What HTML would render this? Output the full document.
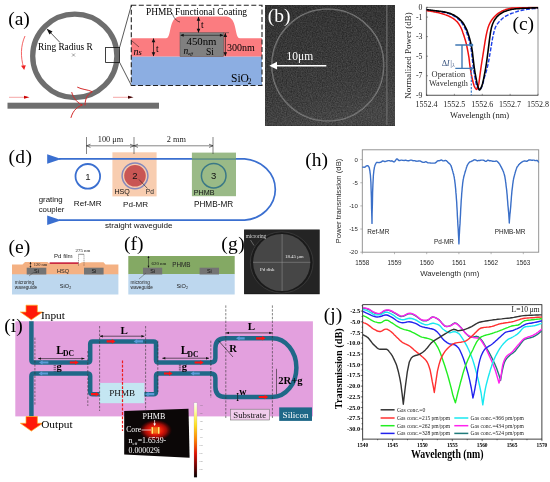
<!DOCTYPE html>
<html><head><meta charset="utf-8"><title>Figure</title>
<style>
html,body{margin:0;padding:0;background:#fff;}
svg{display:block}
.fs{font-family:"Liberation Serif", serif;}
.fn{font-family:"Liberation Sans", sans-serif;}
</style></head><body>
<svg width="550" height="482" viewBox="0 0 550 482">
<rect width="550" height="482" fill="#fff"/>
<g id="pa">
<text class="fs" x="8.2" y="25.2" font-size="19.5" fill="#000" text-anchor="start" font-weight="normal" font-style="normal" >(a)</text>
<ellipse cx="74.8" cy="55.9" rx="42.1" ry="41.7" fill="none" stroke="#6e6e6e" stroke-width="5.3"/>
<rect x="7.5" y="102.7" width="151.5" height="6" fill="#6e6e6e"/>
<rect x="105.6" y="47.4" width="14" height="15" fill="none" stroke="#111" stroke-width="0.8"/>
<path d="M119.6,47.4 L131.3,5.5 M119.6,62.4 L131.3,85.3" stroke="#111" stroke-width="0.7" fill="none"/>
<path d="M60,42.5 L48,30" stroke="#111" stroke-width="0.7" fill="none"/>
<path d="M46.5,28.5 L52.5,31.5 L49.5,34.5 Z" fill="#111"/>
<path d="M72,53.5 l3,3 m-3,0 l3,-3" stroke="#444" stroke-width="0.5"/>
<text class="fs" x="38" y="50" font-size="9.3" fill="#000" text-anchor="start" font-weight="normal" font-style="normal" >Ring Radius R</text>
<path d="M25,36 C20.5,46 20.5,57 23.6,67.5" stroke="#ee2222" stroke-width="0.7" fill="none"/>
<path d="M24.2,70 L21,65.8 L25.8,65.2 Z" fill="#ee2222"/>
<path d="M9,97.3 L27,97.3" stroke="#f08080" stroke-width="0.7"/><path d="M29.5,97.3 L24,95.8 L24,98.8 Z" fill="#c00"/>
<path d="M113,97.3 L131,97.3" stroke="#f08080" stroke-width="0.7"/><path d="M133.5,97.3 L128,95.8 L128,98.8 Z" fill="#400"/>
<path d="M77.6,87.3 C82,89.6 88,89.6 92.3,91.7 C88,94.5 85.3,97 85,105 M71.8,92.5 C73,98 78,103.5 82.4,104.9 C78,106.5 73,110 71,117.5" stroke="#d42a2a" stroke-width="1" fill="none" stroke-linecap="round"/>
<rect x="131.3" y="56.4" width="130.7" height="29" fill="#8caee2"/>
<path d="M131.3,56.5 L131.3,38.3 L166,38.3 C172,38.3 168,17 180,16.5 L226,16.5 C238,17 234,38.3 240,38.3 L262,38.3 L262,56.5 Z" fill="#fb7c80"/>
<rect x="180" y="32.7" width="43.6" height="23.8" fill="#808080" stroke="#555" stroke-width="0.5"/>
<rect x="131.3" y="5.2" width="130.7" height="80.3" fill="none" stroke="#222" stroke-width="1.1" stroke-dasharray="5,2.5"/>
<text class="fs" x="146" y="14.6" font-size="9.4" fill="#000" text-anchor="start" font-weight="normal" font-style="normal" >PHMB Functional Coating</text>
<path d="M172,13 C174,18 176,21 180,22" stroke="#111" stroke-width="0.6" fill="none"/>
<path d="M198.5,17 L198.5,32.5 M153.5,38.5 L153.5,56" stroke="#111" stroke-width="0.7"/>
<path d="M198.5,16.8 l-1.8,4 l3.6,0 Z" fill="#111"/>
<path d="M198.5,32.7 l-1.8,-4 l3.6,0 Z" fill="#111"/>
<path d="M153.5,38.2 l-1.8,4 l3.6,0 Z" fill="#111"/>
<path d="M153.5,56.3 l-1.8,-4 l3.6,0 Z" fill="#111"/>
<path d="M225.3,33 l-1.8,4 l3.6,0 Z" fill="#111"/>
<path d="M225.3,56.3 l-1.8,-4 l3.6,0 Z" fill="#111"/>
<text class="fs" x="201" y="28" font-size="9.5" fill="#000" text-anchor="start" font-weight="normal" font-style="normal" >t</text>
<text class="fs" x="156" y="52" font-size="9.5" fill="#000" text-anchor="start" font-weight="normal" font-style="normal" >t</text>
<path d="M225.3,33 L225.3,56" stroke="#111" stroke-width="0.7"/>
<path d="M223.6,32.7 L229,32.7" stroke="#333" stroke-width="0.5"/>
<path d="M181,35.3 L223,35.3" stroke="#111" stroke-width="0.6"/>
<path d="M180.2,35.3 l3.5,-1.5 l0,3 Z M223.4,35.3 l-3.5,-1.5 l0,3 Z" fill="#111"/>
<text class="fs" x="186.5" y="45" font-size="10.8" fill="#000" text-anchor="start" font-weight="normal" font-style="normal" >450nm</text>
<text class="fs" x="227" y="50.5" font-size="10" fill="#000" text-anchor="start" font-weight="normal" font-style="normal" >300nm</text>
<text class="fs" x="183.5" y="53.8" font-size="9.5" fill="#000" text-anchor="start" font-weight="normal" font-style="italic" >n</text>
<text class="fs" x="188" y="54.6" font-size="5" fill="#000" text-anchor="start" font-weight="normal" font-style="italic" >eff</text>
<text class="fs" x="206" y="54.5" font-size="9.6" fill="#000" text-anchor="start" font-weight="normal" font-style="normal" >Si</text>
<text class="fs" x="133.5" y="54.5" font-size="10" fill="#000" text-anchor="start" font-weight="normal" font-style="italic" >n</text>
<text class="fs" x="138.6" y="55.2" font-size="8.5" fill="#000" text-anchor="start" font-weight="normal" font-style="italic" >s</text>
<path d="M132,41 L139,47" stroke="#111" stroke-width="0.5"/>
<text class="fs" x="231" y="81.8" font-size="11.5" fill="#000" text-anchor="start" font-weight="normal" font-style="normal" >SiO</text>
<text class="fs" x="247.8" y="84" font-size="7.5" fill="#000" text-anchor="start" font-weight="normal" font-style="normal" >2</text>
</g>
<g id="pb">
<defs><filter id="noise" x="0" y="0" width="100%" height="100%" color-interpolation-filters="sRGB"><feTurbulence type="fractalNoise" baseFrequency="0.8" numOctaves="2" seed="3" result="n"/><feColorMatrix in="n" type="matrix" values="0.22 0 0 0 0.125  0.22 0 0 0 0.125  0.22 0 0 0 0.125  0 0 0 0 1"/></filter>
<linearGradient id="semg" x1="0" y1="0" x2="0.25" y2="1"><stop offset="0" stop-color="#000" stop-opacity="0.16"/><stop offset="0.6" stop-color="#000" stop-opacity="0.02"/><stop offset="1" stop-color="#fff" stop-opacity="0.05"/></linearGradient></defs>
<rect x="265.6" y="5" width="129.4" height="120.2" fill="#3a3a3a"/>
<rect x="265.6" y="5" width="129.4" height="120.2" fill="#3a3a3a" filter="url(#noise)"/>
<rect x="265.6" y="5" width="129.4" height="120.2" fill="url(#semg)"/>
<clipPath id="cpb"><rect x="265.6" y="5" width="129.4" height="120.2"/></clipPath>
<g clip-path="url(#cpb)">
<circle cx="327.8" cy="65" r="55.9" fill="none" stroke="#8c8c8c" stroke-width="1.3"/>
<circle cx="327.8" cy="65" r="55.9" fill="none" stroke="#353535" stroke-width="0.45"/>
<path d="M386.8,5 L386.8,125.5" stroke="#808080" stroke-width="1.2"/>
<path d="M386.8,5 L386.8,125.5" stroke="#353535" stroke-width="0.4"/>
</g>
<text class="fs" x="267.8" y="21.8" font-size="19.5" fill="#fff" text-anchor="start" font-weight="normal" font-style="normal" >(b)</text>
<text class="fs" x="286.5" y="60.4" font-size="11.5" fill="#fff" text-anchor="start" font-weight="normal" font-style="normal" >10μm</text>
<path d="M275,65.7 L326.3,65.7" stroke="#fff" stroke-width="1.6"/>
<path d="M269.3,65.7 L277,61.8 L277,69.6 Z" fill="#fff"/>
</g>
<g id="pc">
<rect x="426.5" y="7.3" width="111.5" height="88.02" fill="#fff" stroke="#777" stroke-width="0.8"/>
<path d="M426.5,7.3 L426.5,95.32 L538.0,95.32" fill="none" stroke="#7a7a7a" stroke-width="1.2"/>
<path d="M426.5,7.30 l1.5,0" stroke="#333" stroke-width="0.5"/>
<text class="fs" x="422.5" y="10.0" font-size="7.8" fill="#222" text-anchor="end" font-weight="normal" font-style="normal" >0</text>
<path d="M426.5,17.08 l1.5,0" stroke="#333" stroke-width="0.5"/>
<text class="fs" x="422.5" y="19.779999999999998" font-size="7.8" fill="#222" text-anchor="end" font-weight="normal" font-style="normal" >-1</text>
<path d="M426.5,36.64 l1.5,0" stroke="#333" stroke-width="0.5"/>
<text class="fs" x="422.5" y="39.339999999999996" font-size="7.8" fill="#222" text-anchor="end" font-weight="normal" font-style="normal" >-3</text>
<path d="M426.5,56.20 l1.5,0" stroke="#333" stroke-width="0.5"/>
<text class="fs" x="422.5" y="58.9" font-size="7.8" fill="#222" text-anchor="end" font-weight="normal" font-style="normal" >-5</text>
<path d="M426.5,75.76 l1.5,0" stroke="#333" stroke-width="0.5"/>
<text class="fs" x="422.5" y="78.46" font-size="7.8" fill="#222" text-anchor="end" font-weight="normal" font-style="normal" >-7</text>
<path d="M426.5,95.32 l1.5,0" stroke="#333" stroke-width="0.5"/>
<text class="fs" x="422.5" y="98.02" font-size="7.8" fill="#222" text-anchor="end" font-weight="normal" font-style="normal" >-9</text>
<path d="M426.50,95.32 l0,-1.5" stroke="#333" stroke-width="0.5"/>
<text class="fs" x="426.50" y="106.6" font-size="8.0" fill="#222" text-anchor="middle" font-weight="normal" font-style="normal" >1552.4</text>
<path d="M454.37,95.32 l0,-1.5" stroke="#333" stroke-width="0.5"/>
<text class="fs" x="454.37" y="106.6" font-size="8.0" fill="#222" text-anchor="middle" font-weight="normal" font-style="normal" >1552.5</text>
<path d="M482.25,95.32 l0,-1.5" stroke="#333" stroke-width="0.5"/>
<text class="fs" x="482.25" y="106.6" font-size="8.0" fill="#222" text-anchor="middle" font-weight="normal" font-style="normal" >1552.6</text>
<path d="M510.12,95.32 l0,-1.5" stroke="#333" stroke-width="0.5"/>
<text class="fs" x="510.12" y="106.6" font-size="8.0" fill="#222" text-anchor="middle" font-weight="normal" font-style="normal" >1552.7</text>
<path d="M538.00,95.32 l0,-1.5" stroke="#333" stroke-width="0.5"/>
<text class="fs" x="538.00" y="106.6" font-size="8.0" fill="#222" text-anchor="middle" font-weight="normal" font-style="normal" >1552.8</text>
<clipPath id="cpc"><rect x="426.5" y="6.5" width="111.5" height="89.2"/></clipPath><g clip-path="url(#cpc)">
<path d="M425.0,9.8 L425.9,9.9 L426.9,10.0 L427.8,10.2 L428.7,10.3 L429.6,10.4 L430.6,10.5 L431.5,10.7 L432.4,10.8 L433.3,10.9 L434.3,11.0 L435.2,11.1 L436.1,11.2 L437.0,11.3 L438.0,11.4 L438.9,11.6 L439.8,11.7 L440.7,11.8 L441.7,11.9 L442.6,12.1 L443.5,12.3 L444.4,12.4 L445.4,12.7 L446.3,12.9 L447.2,13.2 L448.1,13.4 L449.1,13.7 L450.0,14.1 L450.9,14.4 L451.8,14.9 L452.8,15.3 L453.7,15.9 L454.6,16.4 L455.5,17.0 L456.5,17.7 L457.4,18.4 L458.3,19.1 L459.2,20.0 L460.2,21.0 L461.1,22.0 L462.0,23.2 L462.9,24.6 L463.9,26.1 L464.8,27.9 L465.7,29.9 L466.6,32.4 L467.6,35.2 L468.5,38.1 L469.4,41.5 L470.3,45.4 L471.3,50.4 L472.2,58.1 L473.1,66.1 L474.0,72.3 L475.0,77.6 L475.9,82.7 L476.8,86.6 L477.7,88.3 L478.7,89.5 L479.6,90.0 L480.6,88.9 L481.6,87.2 L482.6,84.5 L483.6,80.8 L484.5,77.1 L485.5,73.9 L486.5,70.6 L487.5,66.7 L488.5,62.0 L489.5,56.4 L490.5,50.6 L491.5,44.7 L492.5,38.7 L493.5,34.0 L494.4,30.2 L495.4,27.3 L496.4,25.4 L497.4,23.8 L498.4,22.6 L499.4,21.4 L500.4,20.4 L501.4,19.4 L502.4,18.5 L503.4,17.7 L504.3,17.0 L505.3,16.4 L506.3,15.8 L507.3,15.3 L508.3,14.8 L509.3,14.3 L510.3,13.9 L511.3,13.5 L512.3,13.1 L513.3,12.8 L514.2,12.4 L515.2,12.1 L516.2,11.8 L517.2,11.5 L518.2,11.2 L519.2,10.9 L520.2,10.7 L521.2,10.5 L522.2,10.2 L523.2,10.0 L524.1,9.9 L525.1,9.7 L526.1,9.6 L527.1,9.4 L528.1,9.3 L529.1,9.1 L530.1,9.0 L531.1,8.9 L532.1,8.7 L533.1,8.6 L534.0,8.5 L535.0,8.5 L536.0,8.4 L537.0,8.3 L538.0,8.3" fill="none" stroke="#1a3ee8" stroke-width="1.4" stroke-dasharray="4,1.6"/>
<path d="M425.9,10.6 L426.8,10.7 L427.6,10.8 L428.5,10.9 L429.3,11.0 L430.2,11.1 L431.1,11.3 L431.9,11.4 L432.8,11.5 L433.6,11.7 L434.5,11.9 L435.4,12.0 L436.2,12.2 L437.1,12.4 L438.0,12.6 L438.8,12.8 L439.7,13.1 L440.5,13.3 L441.4,13.5 L442.3,13.8 L443.1,14.1 L444.0,14.3 L444.8,14.6 L445.7,14.9 L446.6,15.2 L447.4,15.5 L448.3,15.9 L449.1,16.3 L450.0,16.7 L450.9,17.1 L451.7,17.6 L452.6,18.1 L453.5,18.7 L454.3,19.3 L455.2,20.0 L456.0,20.8 L456.9,21.6 L457.8,22.6 L458.6,23.7 L459.5,25.1 L460.3,26.5 L461.2,28.2 L462.1,30.3 L462.9,32.7 L463.8,35.2 L464.6,37.9 L465.5,40.8 L466.4,44.1 L467.2,48.0 L468.1,52.6 L469.0,57.9 L469.8,65.0 L470.7,70.7 L471.5,75.5 L472.4,79.5 L473.3,83.0 L474.1,85.8 L475.0,87.6 L475.8,88.8 L476.7,89.4 L477.7,87.9 L478.8,83.9 L479.8,76.4 L480.9,68.2 L481.9,61.5 L482.9,55.3 L484.0,48.4 L485.0,41.8 L486.1,35.7 L487.1,31.1 L488.1,27.4 L489.2,24.6 L490.2,22.5 L491.2,20.8 L492.3,19.3 L493.3,17.9 L494.4,16.7 L495.4,15.7 L496.4,14.8 L497.5,13.9 L498.5,13.1 L499.6,12.5 L500.6,11.8 L501.6,11.3 L502.7,10.8 L503.7,10.3 L504.8,9.9 L505.8,9.5 L506.8,9.2 L507.9,8.9 L508.9,8.7 L509.9,8.5 L511.0,8.3 L512.0,8.1 L513.1,8.0 L514.1,7.9 L515.1,7.9 L516.2,7.9 L517.2,7.8 L518.3,7.8 L519.3,7.8 L520.3,7.8 L521.4,7.7 L522.4,7.7 L523.5,7.7 L524.5,7.7 L525.5,7.7 L526.6,7.7 L527.6,7.7 L528.6,7.6 L529.7,7.6 L530.7,7.6 L531.8,7.6 L532.8,7.6 L533.8,7.6 L534.9,7.6 L535.9,7.6 L537.0,7.6 L538.0,7.6" fill="none" stroke="#ee1111" stroke-width="1.5" stroke-linejoin="round"/>
<path d="M425.9,9.5 L426.8,9.6 L427.7,9.7 L428.6,9.9 L429.5,10.0 L430.5,10.1 L431.4,10.2 L432.3,10.3 L433.2,10.5 L434.1,10.6 L435.0,10.7 L435.9,10.8 L436.8,10.9 L437.7,11.0 L438.6,11.1 L439.6,11.2 L440.5,11.3 L441.4,11.5 L442.3,11.6 L443.2,11.7 L444.1,11.9 L445.0,12.1 L445.9,12.3 L446.8,12.5 L447.7,12.7 L448.7,13.0 L449.6,13.3 L450.5,13.6 L451.4,14.0 L452.3,14.4 L453.2,14.8 L454.1,15.3 L455.0,15.8 L455.9,16.4 L456.8,17.0 L457.8,17.7 L458.7,18.4 L459.6,19.2 L460.5,20.1 L461.4,21.1 L462.3,22.1 L463.2,23.3 L464.1,24.7 L465.0,26.3 L465.9,28.1 L466.9,30.2 L467.8,32.8 L468.7,35.5 L469.6,38.5 L470.5,41.9 L471.4,45.8 L472.3,51.1 L473.2,59.1 L474.1,66.7 L475.0,72.6 L476.0,77.8 L476.9,82.6 L477.8,86.4 L478.7,88.7 L479.6,90.0 L480.6,88.8 L481.6,86.7 L482.6,83.5 L483.6,79.1 L484.5,74.4 L485.5,69.1 L486.5,62.9 L487.5,55.5 L488.5,47.7 L489.5,39.5 L490.5,32.4 L491.5,27.4 L492.5,24.3 L493.5,22.0 L494.4,20.2 L495.4,18.7 L496.4,17.4 L497.4,16.3 L498.4,15.4 L499.4,14.5 L500.4,13.8 L501.4,13.2 L502.4,12.6 L503.4,12.0 L504.3,11.6 L505.3,11.2 L506.3,10.9 L507.3,10.6 L508.3,10.3 L509.3,10.0 L510.3,9.8 L511.3,9.5 L512.3,9.3 L513.3,9.2 L514.2,9.0 L515.2,8.9 L516.2,8.8 L517.2,8.7 L518.2,8.7 L519.2,8.6 L520.2,8.5 L521.2,8.5 L522.2,8.4 L523.2,8.3 L524.1,8.3 L525.1,8.2 L526.1,8.2 L527.1,8.2 L528.1,8.1 L529.1,8.1 L530.1,8.0 L531.1,8.0 L532.1,7.9 L533.1,7.9 L534.0,7.9 L535.0,7.9 L536.0,7.8 L537.0,7.8 L538.0,7.8" fill="none" stroke="#000" stroke-width="1.6" stroke-linejoin="round"/>
</g>
<path d="M471.3,69 L471.3,95.3" stroke="#2a6fc4" stroke-width="1.1" stroke-dasharray="2.2,1.4"/>
<path d="M455.3,45 L472,45 M455.3,68.4 L471.5,68.4 M462,45 L462,68.4" stroke="#3f78b4" stroke-width="1.4" fill="none"/>
<circle cx="471.8" cy="45" r="1.5" fill="#3f78b4"/><circle cx="471.3" cy="68.4" r="1.5" fill="#3f78b4"/>
<text class="fs" x="441.8" y="65.8" font-size="8.5" fill="#3a5580" text-anchor="start" font-weight="normal" font-style="normal" >Δ</text>
<text class="fs" x="446.8" y="65.8" font-size="8.5" fill="#3a5580" text-anchor="start" font-weight="normal" font-style="italic" >I</text>
<text class="fs" x="450.3" y="65.8" font-size="8.5" fill="#3a5580" text-anchor="start" font-weight="normal" font-style="normal" >|</text>
<text class="fs" x="452.3" y="67.3" font-size="5.5" fill="#3a5580" text-anchor="start" font-weight="normal" font-style="italic" >λ</text>
<text class="fs" x="431.6" y="77.3" font-size="8.4" fill="#333" text-anchor="start" font-weight="normal" font-style="normal" >Operation</text>
<text class="fs" x="429" y="86.4" font-size="8.2" fill="#333" text-anchor="start" font-weight="normal" font-style="normal" >Wavelength</text>
<text class="fs" x="512.4" y="30" font-size="19.5" fill="#000" text-anchor="start" font-weight="normal" font-style="normal" >(c)</text>
<text class="fs" x="479.6" y="118.3" font-size="8.5" fill="#222" text-anchor="middle" font-weight="normal" font-style="normal" >Wavelength (nm)</text>
<text class="fs" font-size="9" fill="#222" text-anchor="middle" transform="translate(411.1,55.5) rotate(-90)">Normalized Power (dB)</text>
</g>
<g id="pd">
<text class="fs" x="8.4" y="162.5" font-size="19.5" fill="#000" text-anchor="start" font-weight="normal" font-style="normal" letter-spacing="0.4">(d)</text>
<rect x="112.4" y="152.3" width="44.2" height="44.1" fill="#f8cdb0"/>
<rect x="191.9" y="152.6" width="44.1" height="43.6" fill="#9aba87"/>
<path d="M59,158.9 L244.6,158.9 A33.4,30.75 0 0 1 244.6,220.2 L59,220.2" fill="none" stroke="#3a6fd0" stroke-width="1.7"/>
<path d="M191.9,158.9 L236,158.9" stroke="#6f9c7e" stroke-width="1.7"/>
<path d="M47.2,154.2 L61.3,158.9 L47.2,163.7 Z" fill="#3a6fd0"/>
<path d="M47.2,215.5 L61.3,220.2 L47.2,224.9 Z" fill="#3a6fd0"/>
<circle cx="87.8" cy="176.3" r="12.3" fill="#fff" stroke="#3a6fd0" stroke-width="1.8"/>
<circle cx="135" cy="175.8" r="12.9" fill="none" stroke="#8588bb" stroke-width="1.5"/>
<circle cx="135" cy="175.8" r="10.8" fill="#c95654"/>
<circle cx="213.7" cy="175.7" r="12.3" fill="none" stroke="#3a7886" stroke-width="1.5"/>
<text class="fn" x="87.8" y="179.7" font-size="9.6" fill="#222" text-anchor="middle" font-weight="normal" font-style="normal" >1</text>
<text class="fn" x="135" y="179" font-size="9.5" fill="#111" text-anchor="middle" font-weight="normal" font-style="normal" >2</text>
<text class="fn" x="213.7" y="179.2" font-size="9.5" fill="#111" text-anchor="middle" font-weight="normal" font-style="normal" >3</text>
<path d="M139,179.5 L147.5,188.5" stroke="#222" stroke-width="0.6"/>
<path d="M86.5,137 L86.5,154 M134,137 L134,154 M213,137 L213,154" stroke="#333" stroke-width="0.6"/>
<path d="M86.5,145.8 L213,145.8" stroke="#333" stroke-width="0.6"/>
<path d="M86.5,145.8 l4,-1.6 M86.5,145.8 l4,1.6" stroke="#222" stroke-width="0.6" fill="none"/>
<path d="M134,145.8 l-4,-1.6 M134,145.8 l-4,1.6" stroke="#222" stroke-width="0.6" fill="none"/>
<path d="M134,145.8 l4,-1.6 M134,145.8 l4,1.6" stroke="#222" stroke-width="0.6" fill="none"/>
<path d="M213,145.8 l-4,-1.6 M213,145.8 l-4,1.6" stroke="#222" stroke-width="0.6" fill="none"/>
<text class="fs" x="110.5" y="142.3" font-size="8.3" fill="#222" text-anchor="middle" font-weight="normal" font-style="normal" >100 μm</text>
<text class="fs" x="176.4" y="141.8" font-size="8.3" fill="#222" text-anchor="middle" font-weight="normal" font-style="normal" >2 mm</text>
<text class="fn" x="38.7" y="202.2" font-size="7.85" fill="#111" text-anchor="start" font-weight="normal" font-style="normal" >grating</text>
<text class="fn" x="38.7" y="211.5" font-size="7.85" fill="#111" text-anchor="start" font-weight="normal" font-style="normal" >coupler</text>
<text class="fn" x="73.8" y="206.2" font-size="8.1" fill="#111" text-anchor="start" font-weight="normal" font-style="normal" >Ref-MR</text>
<text class="fn" x="123" y="206.6" font-size="8.1" fill="#111" text-anchor="start" font-weight="normal" font-style="normal" >Pd-MR</text>
<text class="fn" x="194" y="206.6" font-size="8.2" fill="#111" text-anchor="start" font-weight="normal" font-style="normal" >PHMB-MR</text>
<text class="fn" x="105" y="228" font-size="8.1" fill="#111" text-anchor="start" font-weight="normal" font-style="normal" >straight waveguide</text>
<text class="fn" x="114.5" y="194" font-size="7.1" fill="#111" text-anchor="start" font-weight="normal" font-style="normal" >HSQ</text>
<text class="fn" x="145.8" y="193.8" font-size="6.6" fill="#222" text-anchor="start" font-weight="normal" font-style="normal" >Pd</text>
<text class="fn" x="193.8" y="195" font-size="7.2" fill="#111" text-anchor="start" font-weight="normal" font-style="normal" >PHMB</text>
</g>
<g id="pe">
<text class="fs" x="8.6" y="252.6" font-size="19.5" fill="#000" text-anchor="start" font-weight="normal" font-style="normal" >(e)</text>
<rect x="12" y="274" width="106.4" height="20.5" fill="#bdd7ee"/>
<path d="M12,274.2 L12,264.6 L22.5,264.6 L25,262.1 L47.5,262.1 L49.5,263.6 L79.5,263.6 L82,262.2 L103.5,262.2 L105.5,264.5 L118.4,264.5 L118.4,274.2 Z" fill="#f4b183"/>
<rect x="26.7" y="267.7" width="19.6" height="6.8" fill="#747474"/>
<rect x="84" y="267.7" width="19.6" height="6.8" fill="#747474"/>
<path d="M49.6,263.1 L78.5,263.1" stroke="#c00020" stroke-width="1.4"/>
<text class="fn" x="54" y="258" font-size="6.1" fill="#222" text-anchor="start" font-weight="normal" font-style="normal" >Pd film</text>
<text class="fs" x="75.5" y="251.6" font-size="4.9" fill="#111" text-anchor="start" font-weight="normal" font-style="normal" >275 nm</text>
<text class="fs" x="33.8" y="266.2" font-size="4.4" fill="#111" text-anchor="start" font-weight="normal" font-style="normal" >120 nm</text>
<text class="fn" x="57" y="272.8" font-size="5.6" fill="#222" text-anchor="start" font-weight="normal" font-style="normal" >HSQ</text>
<text class="fn" x="36.5" y="273.3" font-size="5.4" fill="#111" text-anchor="middle" font-weight="normal" font-style="normal" >Si</text>
<text class="fn" x="93.8" y="273.3" font-size="5.4" fill="#111" text-anchor="middle" font-weight="normal" font-style="normal" >Si</text>
<text class="fn" x="59.8" y="288" font-size="5.6" fill="#222" text-anchor="start" font-weight="normal" font-style="normal" >SiO</text>
<text class="fn" x="69.2" y="289.3" font-size="3.6" fill="#222" text-anchor="start" font-weight="normal" font-style="normal" >2</text>
<text class="fn" x="14.8" y="283.5" font-size="4.7" fill="#222" text-anchor="start" font-weight="normal" font-style="normal" >microring</text>
<text class="fn" x="14.8" y="289.4" font-size="4.7" fill="#222" text-anchor="start" font-weight="normal" font-style="normal" >waveguide</text>
<path d="M29,276 L34,272" stroke="#333" stroke-width="0.4"/>
<path d="M78.5,254.5 L78.5,266 M84,254.5 L84,266" stroke="#222" stroke-width="0.4" stroke-dasharray="1.2,0.6"/>
<path d="M78.5,254.3 L84,254.3" stroke="#222" stroke-width="0.5"/>
<path d="M30.5,262.3 L30.5,267.5" stroke="#111" stroke-width="0.5"/>
<path d="M30.5,262 l-1,1.8 l2,0 Z M30.5,267.8 l-1,-1.8 l2,0 Z" fill="#111"/>
<text class="fs" x="124" y="249.9" font-size="19.5" fill="#000" text-anchor="start" font-weight="normal" font-style="normal" >(f)</text>
<rect x="128.3" y="256" width="106.4" height="18.2" fill="#84a964"/>
<rect x="128.3" y="274" width="106.4" height="20.5" fill="#bdd7ee"/>
<rect x="143" y="267.7" width="19.2" height="6.8" fill="#747474"/>
<rect x="199.6" y="267.7" width="19.4" height="6.8" fill="#747474"/>
<text class="fn" x="152.6" y="273.3" font-size="5.4" fill="#111" text-anchor="middle" font-weight="normal" font-style="normal" >Si</text>
<text class="fn" x="209.3" y="273.3" font-size="5.4" fill="#111" text-anchor="middle" font-weight="normal" font-style="normal" >Si</text>
<text class="fn" x="172.3" y="267" font-size="6.3" fill="#222" text-anchor="start" font-weight="normal" font-style="normal" >PHMB</text>
<text class="fs" x="151.5" y="265" font-size="4.9" fill="#111" text-anchor="start" font-weight="normal" font-style="normal" >620 nm</text>
<path d="M148.5,256.5 L148.5,267.3" stroke="#111" stroke-width="0.5"/>
<path d="M148.5,256.1 l-1,1.9 l2,0 Z M148.5,267.7 l-1,-1.9 l2,0 Z" fill="#111"/>
<text class="fn" x="176.5" y="287.8" font-size="5.6" fill="#222" text-anchor="start" font-weight="normal" font-style="normal" >SiO</text>
<text class="fn" x="185.9" y="289.1" font-size="3.6" fill="#222" text-anchor="start" font-weight="normal" font-style="normal" >2</text>
<text class="fn" x="130.5" y="283.5" font-size="4.7" fill="#222" text-anchor="start" font-weight="normal" font-style="normal" >microring</text>
<text class="fn" x="130.5" y="289.4" font-size="4.7" fill="#222" text-anchor="start" font-weight="normal" font-style="normal" >waveguide</text>
<path d="M139,279 L146,273" stroke="#333" stroke-width="0.4"/>
<text class="fs" x="221.3" y="249.9" font-size="19.5" fill="#000" text-anchor="start" font-weight="normal" font-style="normal" letter-spacing="0.3">(g)</text>
<rect x="244.1" y="229.5" width="75.6" height="64.7" fill="#151515"/><rect x="244.7" y="230" width="74.3" height="63.5" fill="#242424"/>
<ellipse cx="281.7" cy="262.5" rx="31.4" ry="30.6" fill="none" stroke="#3c3c3c" stroke-width="0.8"/><ellipse cx="281.7" cy="262.5" rx="30.6" ry="29.9" fill="#1a1a1a"/>
<circle cx="281.7" cy="262.5" r="28.6" fill="#464646"/>
<path d="M282.1,234 L282.1,291 M253,262.3 L310.3,262.3" stroke="#a0a0a0" stroke-width="0.45"/>
<text class="fs" x="245.7" y="237.5" font-size="5.2" fill="#ddd" text-anchor="start" font-weight="normal" font-style="normal" >microring</text>
<text class="fs" x="285" y="258.3" font-size="4.9" fill="#eee" text-anchor="start" font-weight="normal" font-style="normal" >18.45 μm</text>
<text class="fs" x="260" y="271.3" font-size="4.9" fill="#eee" text-anchor="start" font-weight="normal" font-style="normal" >Pd disk</text>
<path d="M250.5,240 L254,245.5" stroke="#ccc" stroke-width="0.4"/>
</g>
<g id="ph">
<text class="fs" x="305.3" y="166.4" font-size="19.5" fill="#000" text-anchor="start" font-weight="normal" font-style="normal" >(h)</text>
<rect x="362.3" y="149.8" width="176.40" height="102.40" fill="#fff" stroke="#8a8a8a" stroke-width="0.9"/>
<path d="M362.3,159.60 l-2,0" stroke="#8a8a8a" stroke-width="0.6"/>
<text class="fn" x="357.8" y="161.79999999999998" font-size="6" fill="#2a2a2a" text-anchor="end" font-weight="normal" font-style="normal" >0</text>
<path d="M362.3,182.75 l-2,0" stroke="#8a8a8a" stroke-width="0.6"/>
<text class="fn" x="357.8" y="184.95" font-size="6" fill="#2a2a2a" text-anchor="end" font-weight="normal" font-style="normal" >-5</text>
<path d="M362.3,205.90 l-2,0" stroke="#8a8a8a" stroke-width="0.6"/>
<text class="fn" x="357.8" y="208.09999999999997" font-size="6" fill="#2a2a2a" text-anchor="end" font-weight="normal" font-style="normal" >-10</text>
<path d="M362.3,229.05 l-2,0" stroke="#8a8a8a" stroke-width="0.6"/>
<text class="fn" x="357.8" y="231.25" font-size="6" fill="#2a2a2a" text-anchor="end" font-weight="normal" font-style="normal" >-15</text>
<path d="M362.3,252.20 l-2,0" stroke="#8a8a8a" stroke-width="0.6"/>
<text class="fn" x="357.8" y="254.39999999999998" font-size="6" fill="#2a2a2a" text-anchor="end" font-weight="normal" font-style="normal" >-20</text>
<path d="M362.30,252.20 l0,2" stroke="#8a8a8a" stroke-width="0.6"/>
<text class="fn" x="362.30" y="264.8" font-size="6.3" fill="#2a2a2a" text-anchor="middle" font-weight="normal" font-style="normal" >1558</text>
<path d="M394.50,252.20 l0,2" stroke="#8a8a8a" stroke-width="0.6"/>
<text class="fn" x="394.50" y="264.8" font-size="6.3" fill="#2a2a2a" text-anchor="middle" font-weight="normal" font-style="normal" >1559</text>
<path d="M426.70,252.20 l0,2" stroke="#8a8a8a" stroke-width="0.6"/>
<text class="fn" x="426.70" y="264.8" font-size="6.3" fill="#2a2a2a" text-anchor="middle" font-weight="normal" font-style="normal" >1560</text>
<path d="M458.90,252.20 l0,2" stroke="#8a8a8a" stroke-width="0.6"/>
<text class="fn" x="458.90" y="264.8" font-size="6.3" fill="#2a2a2a" text-anchor="middle" font-weight="normal" font-style="normal" >1561</text>
<path d="M491.10,252.20 l0,2" stroke="#8a8a8a" stroke-width="0.6"/>
<text class="fn" x="491.10" y="264.8" font-size="6.3" fill="#2a2a2a" text-anchor="middle" font-weight="normal" font-style="normal" >1562</text>
<path d="M523.30,252.20 l0,2" stroke="#8a8a8a" stroke-width="0.6"/>
<text class="fn" x="523.30" y="264.8" font-size="6.3" fill="#2a2a2a" text-anchor="middle" font-weight="normal" font-style="normal" >1563</text>
<path d="M362.3,167.3 L362.6,167.2 L362.8,167.2 L363.1,167.1 L363.3,167.1 L363.6,167.1 L363.8,167.2 L364.1,167.2 L364.3,167.2 L364.6,167.2 L364.8,167.1 L365.1,167.0 L365.3,166.8 L365.6,166.6 L365.8,166.4 L366.1,166.2 L366.3,166.0 L366.6,165.9 L366.8,165.8 L367.1,165.7 L367.3,165.7 L367.6,165.7 L367.9,165.9 L368.1,166.0 L368.4,166.2 L368.6,166.5 L368.9,166.9 L369.1,167.6 L369.4,168.4 L369.6,169.6 L369.9,171.0 L370.1,172.8 L370.4,175.0 L370.6,178.0 L370.9,182.3 L371.1,189.0 L371.4,197.7 L371.6,208.9 L371.9,219.1 L372.0,223.4 L372.1,213.9 L372.4,203.7 L372.6,192.8 L372.9,185.0 L373.2,179.0 L373.4,175.3 L373.7,172.5 L373.9,170.4 L374.2,168.8 L374.4,167.4 L374.7,166.4 L374.9,165.6 L375.2,164.8 L375.4,164.2 L375.7,163.8 L375.9,163.3 L376.2,162.9 L376.4,162.6 L376.7,162.4 L376.9,162.4 L377.2,162.4 L377.4,162.4 L377.7,162.5 L377.9,162.5 L378.2,162.5 L378.5,162.6 L378.7,162.6 L379.0,162.6 L379.2,162.6 L379.5,162.5 L379.7,162.5 L380.0,162.4 L380.2,162.3 L380.5,162.3 L380.7,162.2 L381.0,162.1 L381.2,162.0 L381.5,161.8 L381.7,161.6 L382.0,161.4 L382.2,161.2 L382.5,161.0 L382.7,160.9 L383.0,160.9 L383.2,161.0 L383.5,161.1 L383.8,161.2 L384.0,161.3 L384.3,161.4 L384.5,161.5 L384.8,161.5 L385.0,161.5 L385.3,161.5 L385.5,161.4 L385.8,161.4 L386.0,161.3 L386.3,161.2 L386.5,161.1 L386.8,161.0 L387.0,160.9 L387.3,160.9 L387.5,160.8 L387.8,160.7 L388.0,160.7 L388.3,160.6 L388.5,160.6 L388.8,160.6 L389.1,160.6 L389.3,160.6 L389.6,160.7 L389.8,160.8 L390.1,160.9 L390.3,161.0 L390.6,161.1 L390.8,161.1 L391.1,161.0 L391.3,161.0 L391.6,160.9 L391.8,160.8 L392.1,160.9 L392.3,161.0 L392.6,161.1 L392.8,161.3 L393.1,161.5 L393.3,161.7 L393.6,161.9 L393.8,161.9 L394.1,161.9 L394.3,161.8 L394.6,161.6 L394.9,161.3 L395.1,161.0 L395.4,160.6 L395.6,160.2 L395.9,159.8 L396.1,159.5 L396.4,159.2 L396.6,159.0 L396.9,159.0 L397.1,159.0 L397.4,159.1 L397.6,159.3 L397.9,159.6 L398.1,159.9 L398.4,160.1 L398.6,160.3 L398.9,160.5 L399.1,160.6 L399.4,160.6 L399.6,160.5 L399.9,160.5 L400.2,160.4 L400.4,160.3 L400.7,160.2 L400.9,160.1 L401.2,160.1 L401.4,160.1 L401.7,160.1 L401.9,160.2 L402.2,160.3 L402.4,160.3 L402.7,160.4 L402.9,160.4 L403.2,160.4 L403.4,160.4 L403.7,160.4 L403.9,160.5 L404.2,160.5 L404.4,160.4 L404.7,160.4 L404.9,160.3 L405.2,160.3 L405.5,160.3 L405.7,160.3 L406.0,160.3 L406.2,160.4 L406.5,160.4 L406.7,160.5 L407.0,160.6 L407.2,160.6 L407.5,160.7 L407.7,160.7 L408.0,160.7 L408.2,160.7 L408.5,160.8 L408.7,160.7 L409.0,160.7 L409.2,160.6 L409.5,160.6 L409.7,160.4 L410.0,160.3 L410.2,160.2 L410.5,160.1 L410.8,160.1 L411.0,160.1 L411.3,160.1 L411.5,160.1 L411.8,160.2 L412.0,160.3 L412.3,160.4 L412.5,160.5 L412.8,160.6 L413.0,160.7 L413.3,160.7 L413.5,160.7 L413.8,160.6 L414.0,160.6 L414.3,160.6 L414.5,160.6 L414.8,160.7 L415.0,160.8 L415.3,160.9 L415.5,161.0 L415.8,161.0 L416.1,161.1 L416.3,161.1 L416.6,161.2 L416.8,161.2 L417.1,161.2 L417.3,161.2 L417.6,161.1 L417.8,161.1 L418.1,161.1 L418.3,161.0 L418.6,161.0 L418.8,160.9 L419.1,160.9 L419.3,160.9 L419.6,160.9 L419.8,161.0 L420.1,161.0 L420.3,161.1 L420.6,161.2 L420.8,161.3 L421.1,161.5 L421.4,161.6 L421.6,161.8 L421.9,161.9 L422.1,162.0 L422.4,162.1 L422.6,162.2 L422.9,162.2 L423.1,162.3 L423.4,162.4 L423.6,162.4 L423.9,162.4 L424.1,162.4 L424.4,162.3 L424.6,162.2 L424.9,162.1 L425.1,161.9 L425.4,161.8 L425.6,161.8 L425.9,161.8 L426.1,161.8 L426.4,161.9 L426.7,162.1 L426.9,162.3 L427.2,162.4 L427.4,162.6 L427.7,162.7 L427.9,162.8 L428.2,162.9 L428.4,162.9 L428.7,162.9 L428.9,162.9 L429.2,162.9 L429.4,162.9 L429.7,162.9 L429.9,162.9 L430.2,163.0 L430.4,163.0 L430.7,163.1 L430.9,163.1 L431.2,163.1 L431.4,163.1 L431.7,163.1 L432.0,163.1 L432.2,163.1 L432.5,163.1 L432.7,163.1 L433.0,163.1 L433.2,163.1 L433.5,163.1 L433.7,163.1 L434.0,163.1 L434.2,163.1 L434.5,163.1 L434.7,163.1 L435.0,163.0 L435.2,162.9 L435.5,162.8 L435.7,162.6 L436.0,162.4 L436.2,162.2 L436.5,161.9 L436.7,161.7 L437.0,161.4 L437.3,161.2 L437.5,161.0 L437.8,160.8 L438.0,160.7 L438.3,160.7 L438.5,160.6 L438.8,160.7 L439.0,160.7 L439.3,160.7 L439.5,160.7 L439.8,160.6 L440.0,160.5 L440.3,160.4 L440.5,160.2 L440.8,160.1 L441.0,160.1 L441.3,160.0 L441.5,160.1 L441.8,160.2 L442.0,160.3 L442.3,160.5 L442.6,160.6 L442.8,160.8 L443.1,160.8 L443.3,160.9 L443.6,160.9 L443.8,160.9 L444.1,160.8 L444.3,160.8 L444.6,160.7 L444.8,160.6 L445.1,160.5 L445.3,160.5 L445.6,160.4 L445.8,160.5 L446.1,160.6 L446.3,160.7 L446.6,160.9 L446.8,161.1 L447.1,161.3 L447.3,161.6 L447.6,161.9 L447.9,162.2 L448.1,162.4 L448.4,162.7 L448.6,163.0 L448.9,163.2 L449.1,163.4 L449.4,163.6 L449.6,163.8 L449.9,164.0 L450.1,164.2 L450.4,164.6 L450.6,165.0 L450.9,165.5 L451.1,166.1 L451.4,166.8 L451.6,167.6 L451.9,168.4 L452.1,169.3 L452.4,170.1 L452.6,170.9 L452.9,171.8 L453.1,172.7 L453.4,173.7 L453.7,174.7 L453.9,175.9 L454.2,177.2 L454.4,178.7 L454.7,180.3 L454.9,182.1 L455.2,184.3 L455.4,186.7 L455.7,189.4 L455.9,192.4 L456.2,195.5 L456.4,198.8 L456.7,202.3 L456.9,206.6 L457.2,211.3 L457.4,216.3 L457.7,221.0 L457.9,225.2 L458.2,229.0 L458.4,233.3 L458.7,238.6 L458.9,243.9 L459.0,242.5 L459.2,236.4 L459.5,231.8 L459.7,227.8 L460.0,223.9 L460.2,219.4 L460.5,214.4 L460.7,209.4 L461.0,204.7 L461.2,200.7 L461.5,197.2 L461.7,193.8 L462.0,190.7 L462.2,187.8 L462.5,185.3 L462.7,183.1 L463.0,181.2 L463.2,179.7 L463.5,178.4 L463.7,177.1 L464.0,176.0 L464.3,175.0 L464.5,174.1 L464.8,173.2 L465.0,172.4 L465.3,171.6 L465.5,170.8 L465.8,169.9 L466.0,169.1 L466.3,168.2 L466.5,167.4 L466.8,166.7 L467.0,166.0 L467.3,165.4 L467.5,164.9 L467.8,164.4 L468.0,164.0 L468.3,163.6 L468.5,163.3 L468.8,163.0 L469.0,162.7 L469.3,162.4 L469.6,162.2 L469.8,162.0 L470.1,161.9 L470.3,161.8 L470.6,161.7 L470.8,161.6 L471.1,161.5 L471.3,161.4 L471.6,161.2 L471.8,161.1 L472.1,161.0 L472.3,160.9 L472.6,160.8 L472.8,160.7 L473.1,160.5 L473.3,160.4 L473.6,160.2 L473.8,160.1 L474.1,159.9 L474.3,159.9 L474.6,159.8 L474.9,159.8 L475.1,159.8 L475.4,159.9 L475.6,160.0 L475.9,160.1 L476.1,160.2 L476.4,160.4 L476.6,160.5 L476.9,160.6 L477.1,160.7 L477.4,160.7 L477.6,160.7 L477.9,160.7 L478.1,160.6 L478.4,160.6 L478.6,160.5 L478.9,160.5 L479.1,160.5 L479.4,160.5 L479.6,160.5 L479.9,160.5 L480.2,160.4 L480.4,160.3 L480.7,160.3 L480.9,160.2 L481.2,160.1 L481.4,160.1 L481.7,160.1 L481.9,160.1 L482.2,160.1 L482.4,160.1 L482.7,160.1 L482.9,160.1 L483.2,160.2 L483.4,160.2 L483.7,160.3 L483.9,160.4 L484.2,160.5 L484.4,160.7 L484.7,160.9 L484.9,161.1 L485.2,161.2 L485.5,161.3 L485.7,161.4 L486.0,161.4 L486.2,161.3 L486.5,161.2 L486.7,161.0 L487.0,160.7 L487.2,160.5 L487.5,160.3 L487.7,160.2 L488.0,160.2 L488.2,160.2 L488.5,160.3 L488.7,160.4 L489.0,160.5 L489.2,160.7 L489.5,160.7 L489.7,160.8 L490.0,160.8 L490.2,160.8 L490.5,160.8 L490.8,160.8 L491.0,160.8 L491.3,160.9 L491.5,160.9 L491.8,161.0 L492.0,161.1 L492.3,161.2 L492.5,161.2 L492.8,161.2 L493.0,161.3 L493.3,161.3 L493.5,161.3 L493.8,161.4 L494.0,161.4 L494.3,161.4 L494.5,161.4 L494.8,161.4 L495.0,161.3 L495.3,161.3 L495.5,161.2 L495.8,161.1 L496.1,161.1 L496.3,161.0 L496.6,161.1 L496.8,161.2 L497.1,161.3 L497.3,161.5 L497.6,161.8 L497.8,162.0 L498.1,162.3 L498.3,162.6 L498.6,162.9 L498.8,163.2 L499.1,163.4 L499.3,163.7 L499.6,164.0 L499.8,164.4 L500.1,164.9 L500.3,165.4 L500.6,165.9 L500.8,166.4 L501.1,166.9 L501.4,167.4 L501.6,167.9 L501.9,168.4 L502.1,168.9 L502.4,169.4 L502.6,169.9 L502.9,170.4 L503.1,171.0 L503.4,171.6 L503.6,172.3 L503.9,173.0 L504.1,173.9 L504.4,174.8 L504.6,175.8 L504.9,176.9 L505.1,178.3 L505.4,179.9 L505.6,181.7 L505.9,183.7 L506.1,185.8 L506.4,188.0 L506.7,190.3 L506.9,192.8 L507.2,195.6 L507.4,198.8 L507.7,202.0 L507.9,205.1 L508.2,207.9 L508.4,210.5 L508.7,213.2 L508.9,216.4 L509.2,220.6 L509.3,223.0 L509.4,220.9 L509.7,217.3 L509.9,214.5 L510.2,212.1 L510.4,209.6 L510.7,206.8 L510.9,203.6 L511.2,200.3 L511.4,197.0 L511.7,193.9 L511.9,191.3 L512.2,188.9 L512.5,186.6 L512.7,184.5 L513.0,182.6 L513.2,180.9 L513.5,179.4 L513.7,178.2 L514.0,177.1 L514.2,176.2 L514.5,175.2 L514.7,174.3 L515.0,173.4 L515.2,172.5 L515.5,171.6 L515.7,170.8 L516.0,170.0 L516.2,169.2 L516.5,168.5 L516.7,167.9 L517.0,167.3 L517.2,166.9 L517.5,166.5 L517.8,166.1 L518.0,165.8 L518.3,165.5 L518.5,165.1 L518.8,164.8 L519.0,164.5 L519.3,164.2 L519.5,163.9 L519.8,163.7 L520.0,163.5 L520.3,163.3 L520.5,163.1 L520.8,162.9 L521.0,162.7 L521.3,162.5 L521.5,162.3 L521.8,162.1 L522.0,162.0 L522.3,161.8 L522.5,161.7 L522.8,161.5 L523.1,161.4 L523.3,161.3 L523.6,161.2 L523.8,161.1 L524.1,161.0 L524.3,161.0 L524.6,161.0 L524.8,161.0 L525.1,161.0 L525.3,161.1 L525.6,161.1 L525.8,161.2 L526.1,161.3 L526.3,161.3 L526.6,161.3 L526.8,161.2 L527.1,161.2 L527.3,161.0 L527.6,160.9 L527.8,160.7 L528.1,160.5 L528.4,160.3 L528.6,160.1 L528.9,160.0 L529.1,160.0 L529.4,160.0 L529.6,160.0 L529.9,160.0 L530.1,160.0 L530.4,160.0 L530.6,160.1 L530.9,160.1 L531.1,160.1 L531.4,160.2 L531.6,160.2 L531.9,160.3 L532.1,160.3 L532.4,160.3 L532.6,160.2 L532.9,160.2 L533.1,160.1 L533.4,160.1 L533.7,160.1 L533.9,160.1 L534.2,160.2 L534.4,160.3 L534.7,160.4 L534.9,160.5 L535.2,160.6 L535.4,160.6 L535.7,160.6 L535.9,160.6 L536.2,160.5 L536.4,160.5 L536.7,160.5 L536.9,160.5 L537.2,160.5 L537.4,160.6 L537.7,160.8 L537.9,161.1 L538.2,161.5 L538.4,162.0 L538.7,162.5" fill="none" stroke="#3a6fc8" stroke-width="1.4" stroke-linejoin="round"/>
<text class="fn" x="367.3" y="233.8" font-size="6.4" fill="#1a1a1a" text-anchor="start" font-weight="normal" font-style="normal" >Ref-MR</text>
<text class="fn" x="434" y="243.9" font-size="6.4" fill="#1a1a1a" text-anchor="start" font-weight="normal" font-style="normal" >Pd-MR</text>
<text class="fn" x="494.8" y="233.8" font-size="6.4" fill="#1a1a1a" text-anchor="start" font-weight="normal" font-style="normal" >PHMB-MR</text>
<text class="fn" x="449.7" y="275.6" font-size="7.8" fill="#2a2a2a" text-anchor="middle" font-weight="normal" font-style="normal" >Wavelength (nm)</text>
<text class="fn" font-size="7.8" fill="#2a2a2a" text-anchor="middle" transform="translate(340.5,201) rotate(-90)">Power transmission (dB)</text>
</g>
<g id="pi">
<rect x="15.3" y="321.3" width="297.6" height="95.1" fill="#e3a0de"/>
<path d="M31.4,321.3 L31.4,360.0 Q31.4,362.5 33.9,362.5 L87.7,362.5 Q90.2,362.5 90.2,360.0 L90.2,343.9 Q90.2,341.4 92.7,341.4 L153.5,341.4 Q156.0,341.4 156.0,343.9 L156.0,360.0 Q156.0,362.5 158.5,362.5 L212,362.5" fill="none" stroke="#1f6888" stroke-width="4.5" stroke-linejoin="round"/>
<path d="M31.4,416.4 L31.4,376.0 Q31.4,373.5 33.9,373.5 L87.7,373.5 Q90.2,373.5 90.2,376.0 L90.2,391.7 Q90.2,394.2 92.7,394.2 L100,394.2" fill="none" stroke="#1f6888" stroke-width="4.5" stroke-linejoin="round"/>
<path d="M144,394.2 L153.5,394.2 Q156.0,394.2 156.0,391.7 L156.0,376.0 Q156.0,373.5 158.5,373.5 L212,373.5" fill="none" stroke="#1f6888" stroke-width="4.5" stroke-linejoin="round"/>
<path d="M210,362.5 L210.9,362.5 Q215.4,362.5 215.4,358.0 L215.4,348.3 Q215.4,338.3 225.4,338.3 L272.4,338.3 A24.0,29.349999999999994 0 0 1 272.4,397.0 L225.4,397.0 Q215.4,397.0 215.4,387.0 L215.4,378.0 Q215.4,373.5 210.9,373.5 L210,373.5" fill="none" stroke="#1f6888" stroke-width="4.5" stroke-linejoin="round"/>
<rect x="99.6" y="382.9" width="44.8" height="20.3" fill="#c4e6f2"/>
<text class="fs" x="122.2" y="396.3" font-size="9.1" fill="#111" text-anchor="middle" font-weight="normal" font-style="normal" >PHMB</text>
<path d="M34.9,337.6 L34.9,406" stroke="#333" stroke-width="0.6" stroke-dasharray="2.4,1.4"/>
<path d="M87.8,351 L87.8,406" stroke="#333" stroke-width="0.6" stroke-dasharray="2.4,1.4"/>
<path d="M99.6,326 L99.6,411" stroke="#333" stroke-width="0.6" stroke-dasharray="2.4,1.4"/>
<path d="M145.6,326 L145.6,410" stroke="#333" stroke-width="0.6" stroke-dasharray="2.4,1.4"/>
<path d="M157.8,340.7 L157.8,392" stroke="#333" stroke-width="0.6" stroke-dasharray="2.4,1.4"/>
<path d="M210.8,340.7 L210.8,398" stroke="#333" stroke-width="0.6" stroke-dasharray="2.4,1.4"/>
<path d="M225.8,305.4 L225.8,418.6" stroke="#333" stroke-width="0.6" stroke-dasharray="2.4,1.4"/>
<path d="M272.4,305.4 L272.4,418.6" stroke="#333" stroke-width="0.6" stroke-dasharray="2.4,1.4"/>
<path d="M122.5,360.5 L122.5,431" stroke="#ee1c1c" stroke-width="1.2" stroke-dasharray="2.8,1.5"/>
<path d="M48.4,361.4 L42.6,361.4 L42.6,360.2 L39,362.5 L42.6,364.8 L42.6,363.6 L48.4,363.6 Z" fill="#5a9ad6"/>
<path d="M69.8,361.4 L75.10000000000001,361.4 L75.10000000000001,360.2 L78.7,362.5 L75.10000000000001,364.8 L75.10000000000001,363.6 L69.8,363.6 Z" fill="#ff1212"/>
<path d="M48,372.4 L42.2,372.4 L42.2,371.2 L38.6,373.5 L42.2,375.8 L42.2,374.6 L48,374.6 Z" fill="#5a9ad6"/>
<path d="M91,393.09999999999997 L95.80000000000001,393.09999999999997 L95.80000000000001,391.9 L99.4,394.2 L95.80000000000001,396.5 L95.80000000000001,395.3 L91,395.3 Z" fill="#ff1212"/>
<path d="M106.6,340.29999999999995 L111.9,340.29999999999995 L111.9,339.09999999999997 L115.5,341.4 L111.9,343.7 L111.9,342.5 L106.6,342.5 Z" fill="#ff1212"/>
<path d="M143,340.29999999999995 L137.2,340.29999999999995 L137.2,339.09999999999997 L133.6,341.4 L137.2,343.7 L137.2,342.5 L143,342.5 Z" fill="#5a9ad6"/>
<path d="M154.3,393.09999999999997 L148.6,393.09999999999997 L148.6,391.9 L145,394.2 L148.6,396.5 L148.6,395.3 L154.3,395.3 Z" fill="#5a9ad6"/>
<path d="M194.6,361.4 L200.1,361.4 L200.1,360.2 L203.7,362.5 L200.1,364.8 L200.1,363.6 L194.6,363.6 Z" fill="#ff1212"/>
<path d="M164,372.4 L169.0,372.4 L169.0,371.2 L172.6,373.5 L169.0,375.8 L169.0,374.6 L164,374.6 Z" fill="#ff1212"/>
<path d="M199.8,372.4 L194.1,372.4 L194.1,371.2 L190.5,373.5 L194.1,375.8 L194.1,374.6 L199.8,374.6 Z" fill="#5a9ad6"/>
<path d="M244.7,337.2 L239.6,337.2 L239.6,336.0 L236,338.3 L239.6,340.6 L239.6,339.40000000000003 L244.7,339.40000000000003 Z" fill="#5a9ad6"/>
<path d="M256,337.2 L262.0,337.2 L262.0,336.0 L265.6,338.3 L262.0,340.6 L262.0,339.40000000000003 L256,339.40000000000003 Z" fill="#ff1212"/>
<path d="M258.7,395.9 L264.59999999999997,395.9 L264.59999999999997,394.7 L268.2,397.0 L264.59999999999997,399.3 L264.59999999999997,398.1 L258.7,398.1 Z" fill="#ff1212"/>
<path d="M38,358.6 L84.5,358.6" stroke="#111" stroke-width="0.6"/>
<path d="M38,358.6 l3,-1.2 l0,2.4 Z M84.5,358.6 l-3,-1.2 l0,2.4 Z" fill="#111"/>
<path d="M162.3,358.2 L209,358.2" stroke="#111" stroke-width="0.6"/>
<path d="M162.3,358.2 l3,-1.2 l0,2.4 Z M209,358.2 l-3,-1.2 l0,2.4 Z" fill="#111"/>
<path d="M99.8,336.2 L144.4,336.2" stroke="#111" stroke-width="0.6"/>
<path d="M99.8,336.2 l3,-1.2 l0,2.4 Z M144.4,336.2 l-3,-1.2 l0,2.4 Z" fill="#111"/>
<path d="M226,332.9 L272.2,332.9" stroke="#111" stroke-width="0.6"/>
<path d="M226,332.9 l3,-1.2 l0,2.4 Z M272.2,332.9 l-3,-1.2 l0,2.4 Z" fill="#111"/>
<text class="fs" x="56.3" y="353.8" font-size="11.5" fill="#000" text-anchor="start" font-weight="bold" font-style="normal" >L</text>
<text class="fs" x="63.0" y="356.2" font-size="7.6" fill="#000" text-anchor="start" font-weight="bold" font-style="normal" >DC</text>
<text class="fs" x="180.8" y="354.2" font-size="11.5" fill="#000" text-anchor="start" font-weight="bold" font-style="normal" >L</text>
<text class="fs" x="187.5" y="356.59999999999997" font-size="7.6" fill="#000" text-anchor="start" font-weight="bold" font-style="normal" >DC</text>
<text class="fs" x="120.6" y="333.6" font-size="11" fill="#000" text-anchor="start" font-weight="bold" font-style="normal" >L</text>
<text class="fs" x="247.8" y="329.8" font-size="11" fill="#000" text-anchor="start" font-weight="bold" font-style="normal" >L</text>
<text class="fs" x="56.6" y="370.2" font-size="10.5" fill="#000" text-anchor="start" font-weight="bold" font-style="normal" >g</text>
<path d="M54.2,365.0 L54.2,371.5" stroke="#111" stroke-width="0.6" stroke-dasharray="1.2,0.8"/>
<path d="M55.400000000000006,365.0 L55.400000000000006,371.5" stroke="#111" stroke-width="0.5" stroke-dasharray="1.2,0.8"/>
<text class="fs" x="181.8" y="369.8" font-size="10.5" fill="#000" text-anchor="start" font-weight="bold" font-style="normal" >g</text>
<path d="M179.4,364.6 L179.4,371.1" stroke="#111" stroke-width="0.6" stroke-dasharray="1.2,0.8"/>
<path d="M180.6,364.6 L180.6,371.1" stroke="#111" stroke-width="0.5" stroke-dasharray="1.2,0.8"/>
<path d="M218.5,340.7 L233,357" stroke="#111" stroke-width="0.6"/>
<text class="fs" x="229.3" y="352" font-size="10.5" fill="#000" text-anchor="start" font-weight="bold" font-style="normal" >R</text>
<text class="fs" x="239.2" y="394.7" font-size="10" fill="#000" text-anchor="start" font-weight="bold" font-style="normal" >w</text>
<path d="M237.6,393.5 L237.6,400.2" stroke="#111" stroke-width="0.6"/>
<path d="M237.6,395 l-1.1,-2 l2.2,0 Z M237.6,399 l-1.1,2 l2.2,0 Z" fill="#111"/>
<text class="fs" x="278.2" y="383.6" font-size="10.6" fill="#000" text-anchor="start" font-weight="bold" font-style="normal" >2R+g</text>
<path d="M276.5,368.8 L276.5,394.4" stroke="#222" stroke-width="0.6"/>
<rect x="230.4" y="409.2" width="39.3" height="10.8" fill="#f1cdec" stroke="#777" stroke-width="0.6"/>
<text class="fs" x="233.3" y="417.7" font-size="8.8" fill="#111" text-anchor="start" font-weight="normal" font-style="normal" >Substrate</text>
<rect x="279.2" y="407.4" width="32.8" height="13.5" fill="#1f6888"/>
<text class="fs" x="282.6" y="417.5" font-size="9.2" fill="#fff" text-anchor="start" font-weight="normal" font-style="normal" >Silicon</text>
<path d="M26,305.2 L37.4,305.2 L37.4,312.0 L42.6,312.0 L31.3,319.8 L20.4,312.0 L26,312.0 Z" fill="#ff1a08" stroke="#ffb020" stroke-width="0.7" stroke-linejoin="round"/>
<path d="M26,416.5 L37.4,416.5 L37.4,423.3 L42.6,423.3 L31.3,431.1 L20.4,423.3 L26,423.3 Z" fill="#ff1a08" stroke="#ffb020" stroke-width="0.7" stroke-linejoin="round"/>
<text class="fs" x="41" y="318.8" font-size="11.3" fill="#000" text-anchor="start" font-weight="normal" font-style="normal" >Input</text>
<text class="fs" x="41.2" y="428" font-size="11.3" fill="#000" text-anchor="start" font-weight="normal" font-style="normal" >Output</text>
<text class="fs" x="4.3" y="331.8" font-size="19.5" fill="#000" text-anchor="start" font-weight="normal" font-style="normal" >(i)</text>
<defs><radialGradient id="glow"><stop offset="0" stop-color="#ff9020"/><stop offset="0.22" stop-color="#f83810"/><stop offset="0.45" stop-color="#d81408"/><stop offset="0.65" stop-color="#a00c06" stop-opacity="0.95"/><stop offset="0.85" stop-color="#500404" stop-opacity="0.6"/><stop offset="1" stop-color="#0a0202" stop-opacity="0"/></radialGradient>
<linearGradient id="cbar" x1="0" y1="0" x2="0" y2="1"><stop offset="0" stop-color="#ffffff"/><stop offset="0.12" stop-color="#ffffa0"/><stop offset="0.3" stop-color="#ffe020"/><stop offset="0.5" stop-color="#ff8000"/><stop offset="0.68" stop-color="#e01000"/><stop offset="0.85" stop-color="#700000"/><stop offset="1" stop-color="#000000"/></linearGradient></defs>
<path d="M124.2,411 L188.5,408.7 L189.6,457.8 L124.2,454.5 Z" fill="#0b0707"/>
<ellipse cx="155.6" cy="430.3" rx="17" ry="11" fill="url(#glow)"/><rect x="152" y="427.3" width="7" height="6.2" fill="#f07818" opacity="0.85"/>
<rect x="151.5" y="427" width="1.5" height="6.8" rx="0.6" fill="#ffe870"/><rect x="158" y="427" width="1.5" height="6.8" rx="0.6" fill="#ffe870"/>
<text class="fs" x="142.6" y="418.6" font-size="8" fill="#fff" text-anchor="start" font-weight="normal" font-style="normal" >PHMB</text>
<text class="fs" x="126.2" y="432.3" font-size="7.7" fill="#fff" text-anchor="start" font-weight="normal" font-style="normal" >Core</text>
<path d="M141.5,430 L151,430" stroke="#fff" stroke-width="0.7"/>
<path d="M154.6,420 L154.6,424" stroke="#fff" stroke-width="0.7"/><path d="M154.6,426 l-1.4,-2.4 l2.8,0 Z" fill="#fff"/>
<text class="fs" x="128.6" y="443.4" font-size="7.8" fill="#fff" text-anchor="start" font-weight="normal" font-style="normal" >n</text>
<text class="fs" x="132.5" y="444.8" font-size="4.4" fill="#fff" text-anchor="start" font-weight="normal" font-style="normal" >eff</text>
<text class="fs" x="137.7" y="443.4" font-size="7.8" fill="#fff" text-anchor="start" font-weight="normal" font-style="normal" >=1.6539-</text>
<text class="fs" x="128.6" y="452.7" font-size="7.8" fill="#fff" text-anchor="start" font-weight="normal" font-style="normal" >0.000029i</text>
<rect x="194" y="402.8" width="3" height="74.5" fill="url(#cbar)" stroke="#999" stroke-width="0.2"/>
<text class="fs" x="199.5" y="405.5" font-size="2.4" fill="#666" text-anchor="start" font-weight="normal" font-style="normal" >1.8</text>
<text class="fs" x="199.5" y="413.6" font-size="2.4" fill="#666" text-anchor="start" font-weight="normal" font-style="normal" >1.6</text>
<text class="fs" x="199.5" y="421.7" font-size="2.4" fill="#666" text-anchor="start" font-weight="normal" font-style="normal" >1.4</text>
<text class="fs" x="199.5" y="429.8" font-size="2.4" fill="#666" text-anchor="start" font-weight="normal" font-style="normal" >1.2</text>
<text class="fs" x="199.5" y="437.9" font-size="2.4" fill="#666" text-anchor="start" font-weight="normal" font-style="normal" >1.0</text>
<text class="fs" x="199.5" y="446.0" font-size="2.4" fill="#666" text-anchor="start" font-weight="normal" font-style="normal" >0.8</text>
<text class="fs" x="199.5" y="454.1" font-size="2.4" fill="#666" text-anchor="start" font-weight="normal" font-style="normal" >0.6</text>
<text class="fs" x="199.5" y="462.2" font-size="2.4" fill="#666" text-anchor="start" font-weight="normal" font-style="normal" >0.4</text>
<text class="fs" x="199.5" y="470.3" font-size="2.4" fill="#666" text-anchor="start" font-weight="normal" font-style="normal" >0.2</text>
</g>
<g id="pj">
<text class="fs" x="323.8" y="321" font-size="19.5" fill="#000" text-anchor="start" font-weight="normal" font-style="normal" >(j)</text>
<rect x="362.7" y="304.7" width="179.20" height="134.40" fill="#fff" stroke="#111" stroke-width="0.8"/>
<path d="M362.7,311.10 l-2,0" stroke="#111" stroke-width="0.6"/>
<path d="M362.7,305.74 l-1.2,0" stroke="#111" stroke-width="0.5"/>
<text class="fs" x="360.09999999999997" y="313.10" font-size="6.3" font-weight="bold" text-anchor="end">-2.5</text>
<path d="M362.7,321.82 l-2,0" stroke="#111" stroke-width="0.6"/>
<path d="M362.7,316.46 l-1.2,0" stroke="#111" stroke-width="0.5"/>
<text class="fs" x="360.09999999999997" y="323.82" font-size="6.3" font-weight="bold" text-anchor="end">-5.0</text>
<path d="M362.7,332.54 l-2,0" stroke="#111" stroke-width="0.6"/>
<path d="M362.7,327.18 l-1.2,0" stroke="#111" stroke-width="0.5"/>
<text class="fs" x="360.09999999999997" y="334.54" font-size="6.3" font-weight="bold" text-anchor="end">-7.5</text>
<path d="M362.7,343.26 l-2,0" stroke="#111" stroke-width="0.6"/>
<path d="M362.7,337.90 l-1.2,0" stroke="#111" stroke-width="0.5"/>
<text class="fs" x="360.09999999999997" y="345.26" font-size="6.3" font-weight="bold" text-anchor="end">-10.0</text>
<path d="M362.7,353.98 l-2,0" stroke="#111" stroke-width="0.6"/>
<path d="M362.7,348.62 l-1.2,0" stroke="#111" stroke-width="0.5"/>
<text class="fs" x="360.09999999999997" y="355.98" font-size="6.3" font-weight="bold" text-anchor="end">-12.5</text>
<path d="M362.7,364.70 l-2,0" stroke="#111" stroke-width="0.6"/>
<path d="M362.7,359.34 l-1.2,0" stroke="#111" stroke-width="0.5"/>
<text class="fs" x="360.09999999999997" y="366.70" font-size="6.3" font-weight="bold" text-anchor="end">-15.0</text>
<path d="M362.7,375.42 l-2,0" stroke="#111" stroke-width="0.6"/>
<path d="M362.7,370.06 l-1.2,0" stroke="#111" stroke-width="0.5"/>
<text class="fs" x="360.09999999999997" y="377.42" font-size="6.3" font-weight="bold" text-anchor="end">-17.5</text>
<path d="M362.7,386.14 l-2,0" stroke="#111" stroke-width="0.6"/>
<path d="M362.7,380.78 l-1.2,0" stroke="#111" stroke-width="0.5"/>
<text class="fs" x="360.09999999999997" y="388.14" font-size="6.3" font-weight="bold" text-anchor="end">-20.0</text>
<path d="M362.7,396.86 l-2,0" stroke="#111" stroke-width="0.6"/>
<path d="M362.7,391.50 l-1.2,0" stroke="#111" stroke-width="0.5"/>
<text class="fs" x="360.09999999999997" y="398.86" font-size="6.3" font-weight="bold" text-anchor="end">-22.5</text>
<path d="M362.7,407.58 l-2,0" stroke="#111" stroke-width="0.6"/>
<path d="M362.7,402.22 l-1.2,0" stroke="#111" stroke-width="0.5"/>
<text class="fs" x="360.09999999999997" y="409.58" font-size="6.3" font-weight="bold" text-anchor="end">-25.0</text>
<path d="M362.7,418.30 l-2,0" stroke="#111" stroke-width="0.6"/>
<path d="M362.7,412.94 l-1.2,0" stroke="#111" stroke-width="0.5"/>
<text class="fs" x="360.09999999999997" y="420.30" font-size="6.3" font-weight="bold" text-anchor="end">-27.5</text>
<path d="M362.7,429.02 l-2,0" stroke="#111" stroke-width="0.6"/>
<path d="M362.7,423.66 l-1.2,0" stroke="#111" stroke-width="0.5"/>
<text class="fs" x="360.09999999999997" y="431.02" font-size="6.3" font-weight="bold" text-anchor="end">-30.0</text>
<path d="M362.70,439.1 l0,2" stroke="#111" stroke-width="0.6"/>
<path d="M377.63,439.1 l0,1.2" stroke="#111" stroke-width="0.5"/>
<text class="fs" x="362.70" y="446.9" font-size="5.4" fill="#000" text-anchor="middle" font-weight="bold" font-style="normal" >1540</text>
<path d="M392.57,439.1 l0,2" stroke="#111" stroke-width="0.6"/>
<path d="M407.50,439.1 l0,1.2" stroke="#111" stroke-width="0.5"/>
<text class="fs" x="392.57" y="446.9" font-size="5.4" fill="#000" text-anchor="middle" font-weight="bold" font-style="normal" >1545</text>
<path d="M422.43,439.1 l0,2" stroke="#111" stroke-width="0.6"/>
<path d="M437.37,439.1 l0,1.2" stroke="#111" stroke-width="0.5"/>
<text class="fs" x="422.43" y="446.9" font-size="5.4" fill="#000" text-anchor="middle" font-weight="bold" font-style="normal" >1550</text>
<path d="M452.30,439.1 l0,2" stroke="#111" stroke-width="0.6"/>
<path d="M467.23,439.1 l0,1.2" stroke="#111" stroke-width="0.5"/>
<text class="fs" x="452.30" y="446.9" font-size="5.4" fill="#000" text-anchor="middle" font-weight="bold" font-style="normal" >1555</text>
<path d="M482.17,439.1 l0,2" stroke="#111" stroke-width="0.6"/>
<path d="M497.10,439.1 l0,1.2" stroke="#111" stroke-width="0.5"/>
<text class="fs" x="482.17" y="446.9" font-size="5.4" fill="#000" text-anchor="middle" font-weight="bold" font-style="normal" >1560</text>
<path d="M512.03,439.1 l0,2" stroke="#111" stroke-width="0.6"/>
<path d="M526.97,439.1 l0,1.2" stroke="#111" stroke-width="0.5"/>
<text class="fs" x="512.03" y="446.9" font-size="5.4" fill="#000" text-anchor="middle" font-weight="bold" font-style="normal" >1565</text>
<path d="M541.90,439.1 l0,2" stroke="#111" stroke-width="0.6"/>
<text class="fs" x="541.90" y="446.9" font-size="5.4" fill="#000" text-anchor="middle" font-weight="bold" font-style="normal" >1570</text>
<clipPath id="cpj"><rect x="362.7" y="304.7" width="179.20" height="134.40"/></clipPath><g clip-path="url(#cpj)">
<path d="M362.9,308.3 L364.9,308.4 L366.9,308.8 L368.9,309.5 L370.9,310.7 L372.9,312.1 L374.9,313.0 L376.9,313.7 L378.9,314.1 L380.8,313.4 L382.8,312.0 L384.8,310.7 L386.8,310.4 L388.8,310.4 L390.8,311.0 L392.8,312.1 L394.8,313.1 L396.8,314.3 L398.8,315.6 L400.8,316.5 L402.8,316.4 L404.8,315.6 L406.8,314.5 L408.8,313.7 L410.8,313.6 L412.8,314.3 L414.8,315.4 L416.8,316.6 L418.8,318.2 L420.8,319.7 L422.8,320.7 L424.8,320.7 L426.8,320.7 L428.7,319.7 L430.7,318.0 L432.7,317.0 L434.7,317.4 L436.7,318.4 L438.7,319.6 L440.7,321.6 L442.7,324.1 L444.7,326.0 L446.7,326.5 L448.7,326.2 L450.7,325.6 L452.7,324.1 L454.7,322.9 L456.7,323.4 L458.7,325.2 L460.7,327.3 L462.7,329.6 L464.7,332.1 L466.7,334.3 L468.7,336.2 L470.7,337.3 L472.7,337.1 L474.7,336.6 L476.6,336.3 L478.6,337.0 L480.6,338.9 L482.6,341.4 L484.6,344.8 L486.6,348.3 L488.6,351.7 L490.6,355.4 L492.6,359.3 L494.6,363.5 L496.6,368.3 L498.6,373.9 L500.6,380.3 L501.2,376.4 L501.8,372.9 L502.4,370.0 L503.0,367.5 L503.6,365.1 L504.2,363.1 L504.8,361.6 L505.4,360.5 L506.0,359.5 L506.6,358.7 L507.2,357.9 L507.8,357.2 L508.4,356.6 L509.0,356.1 L509.6,355.5 L510.2,355.0 L510.8,354.5 L511.4,354.0 L512.0,353.6 L512.6,353.2 L513.2,352.8 L513.8,352.3 L514.4,351.8 L515.0,351.2 L515.6,350.5 L516.2,349.7 L516.8,348.9 L517.4,348.1 L518.0,347.3 L518.6,346.6 L519.2,345.8 L519.8,345.0 L520.4,344.2 L521.0,343.3 L521.6,342.5 L522.2,341.8 L522.8,341.0 L523.3,340.4 L523.9,339.9 L524.5,339.5 L525.1,339.2 L525.7,339.0 L526.3,338.8 L526.9,338.6 L527.5,338.4 L528.1,338.3 L528.7,338.1 L529.3,338.0 L529.9,337.9 L530.5,337.7 L531.1,337.6 L531.7,337.4 L532.3,337.2 L532.9,337.0 L533.5,336.7 L534.1,336.4 L534.7,336.1 L535.3,335.7 L535.9,335.4 L536.5,335.0 L537.1,334.6 L537.7,334.2 L538.3,333.7 L538.9,333.3 L539.5,332.8 L540.1,332.3 L540.7,331.8 L541.3,331.2 L541.9,330.7" fill="none" stroke="#1f7a7a" stroke-width="1.4" stroke-linejoin="round"/>
<path d="M362.9,307.9 L364.9,308.0 L366.8,308.4 L368.8,309.0 L370.8,310.3 L372.7,311.6 L374.7,312.5 L376.7,313.3 L378.7,313.7 L380.6,313.1 L382.6,311.7 L384.6,310.4 L386.6,310.0 L388.5,310.0 L390.5,310.5 L392.5,311.5 L394.4,312.5 L396.4,313.6 L398.4,314.9 L400.4,315.9 L402.3,316.1 L404.3,315.4 L406.3,314.4 L408.3,313.4 L410.2,313.1 L412.2,313.6 L414.2,314.6 L416.1,315.7 L418.1,317.2 L420.1,318.8 L422.1,320.0 L424.0,320.3 L426.0,320.3 L428.0,319.9 L430.0,318.5 L431.9,317.2 L433.9,317.2 L435.9,317.9 L437.8,319.0 L439.8,320.6 L441.8,323.0 L443.8,325.2 L445.7,326.5 L447.7,326.4 L449.7,326.0 L451.7,325.1 L453.6,323.7 L455.6,323.3 L457.6,324.4 L459.5,326.2 L461.5,328.2 L463.5,330.8 L465.5,333.2 L467.4,334.8 L469.4,336.0 L471.4,336.9 L473.4,337.5 L475.3,337.8 L477.3,338.0 L479.3,338.5 L481.2,340.5 L483.2,343.6 L485.2,347.0 L487.2,351.1 L489.1,355.4 L491.1,359.8 L493.1,364.4 L495.1,369.7 L497.0,376.0 L499.0,383.0 L499.6,381.3 L500.2,379.2 L500.9,376.6 L501.5,373.0 L502.1,368.6 L502.7,365.0 L503.4,362.8 L504.0,361.0 L504.6,359.5 L505.2,358.3 L505.8,357.3 L506.5,356.5 L507.1,355.8 L507.7,355.3 L508.3,354.8 L508.9,354.3 L509.6,353.9 L510.2,353.5 L510.8,353.1 L511.4,352.6 L512.1,352.0 L512.7,351.4 L513.3,350.8 L513.9,350.0 L514.5,349.3 L515.2,348.5 L515.8,347.8 L516.4,347.0 L517.0,346.2 L517.7,345.5 L518.3,344.8 L518.9,344.1 L519.5,343.4 L520.1,342.7 L520.8,342.0 L521.4,341.3 L522.0,340.6 L522.6,340.0 L523.3,339.4 L523.9,338.9 L524.5,338.5 L525.1,338.2 L525.7,337.9 L526.4,337.6 L527.0,337.4 L527.6,337.1 L528.2,336.9 L528.8,336.7 L529.5,336.6 L530.1,336.4 L530.7,336.2 L531.3,336.0 L532.0,335.7 L532.6,335.5 L533.2,335.2 L533.8,334.8 L534.4,334.5 L535.1,334.1 L535.7,333.8 L536.3,333.4 L536.9,332.9 L537.6,332.5 L538.2,332.1 L538.8,331.6 L539.4,331.1 L540.0,330.6 L540.7,330.1 L541.3,329.6 L541.9,329.0" fill="none" stroke="#ff22ee" stroke-width="1.4" stroke-linejoin="round"/>
<path d="M362.9,309.3 L364.6,309.8 L366.4,310.4 L368.1,311.1 L369.8,312.1 L371.6,313.2 L373.3,314.3 L375.0,314.9 L376.8,314.9 L378.5,314.9 L380.3,314.9 L382.0,314.2 L383.7,313.0 L385.5,312.1 L387.2,312.2 L389.0,312.8 L390.7,313.6 L392.4,314.6 L394.2,315.7 L395.9,317.1 L397.6,318.2 L399.4,319.0 L401.1,319.5 L402.9,319.7 L404.6,319.5 L406.3,319.0 L408.1,318.5 L409.8,318.3 L411.5,318.5 L413.3,319.0 L415.0,319.7 L416.8,320.5 L418.5,321.6 L420.2,322.7 L422.0,323.5 L423.7,324.2 L425.4,324.8 L427.2,324.9 L428.9,324.4 L430.7,323.7 L432.4,323.3 L434.1,323.3 L435.9,323.8 L437.6,324.3 L439.4,325.3 L441.1,327.1 L442.8,329.0 L444.6,330.3 L446.3,331.4 L448.0,332.3 L449.8,332.8 L451.5,332.4 L453.3,331.7 L455.0,331.6 L456.7,332.3 L458.5,333.3 L460.2,335.1 L461.9,337.6 L463.7,340.3 L465.4,343.3 L467.2,346.7 L468.9,350.3 L470.6,354.3 L472.4,358.9 L474.1,364.2 L475.8,370.4 L477.6,377.1 L479.3,384.4 L481.1,393.0 L482.8,404.8 L483.7,398.8 L484.5,393.3 L485.4,388.7 L486.2,384.9 L487.1,381.5 L487.9,378.4 L488.8,375.3 L489.7,372.3 L490.5,369.4 L491.4,366.8 L492.2,364.3 L493.1,362.0 L493.9,359.8 L494.8,357.8 L495.6,356.0 L496.5,354.3 L497.4,352.7 L498.2,351.1 L499.1,349.7 L499.9,348.3 L500.8,347.1 L501.6,345.9 L502.5,344.9 L503.4,343.8 L504.2,342.9 L505.1,342.0 L505.9,341.1 L506.8,340.4 L507.6,339.7 L508.5,339.2 L509.4,338.7 L510.2,338.3 L511.1,337.9 L511.9,337.5 L512.8,337.0 L513.6,336.5 L514.5,336.0 L515.4,335.5 L516.2,334.9 L517.1,334.3 L517.9,333.6 L518.8,332.9 L519.6,332.0 L520.5,331.0 L521.3,329.9 L522.2,328.9 L523.1,328.0 L523.9,327.3 L524.8,327.0 L525.6,326.8 L526.5,326.6 L527.3,326.5 L528.2,326.5 L529.1,326.4 L529.9,326.3 L530.8,326.2 L531.6,326.1 L532.5,326.0 L533.3,325.9 L534.2,325.7 L535.1,325.5 L535.9,325.3 L536.8,325.0 L537.6,324.8 L538.5,324.5 L539.3,324.2 L540.2,323.9 L541.1,323.6 L541.9,323.2" fill="none" stroke="#18e8f0" stroke-width="1.4" stroke-linejoin="round"/>
<path d="M362.9,311.4 L364.5,312.1 L366.1,312.9 L367.7,313.6 L369.3,314.3 L370.9,315.1 L372.5,315.8 L374.0,316.3 L375.6,316.7 L377.2,317.0 L378.8,316.9 L380.4,316.5 L382.0,316.0 L383.6,315.4 L385.2,315.0 L386.8,315.0 L388.4,315.5 L390.0,316.3 L391.6,317.2 L393.2,318.1 L394.8,319.3 L396.4,320.5 L398.0,321.5 L399.6,322.1 L401.2,322.6 L402.7,322.8 L404.3,322.6 L405.9,322.3 L407.5,321.9 L409.1,321.8 L410.7,322.0 L412.3,322.3 L413.9,322.8 L415.5,323.4 L417.1,324.2 L418.7,325.2 L420.3,326.1 L421.9,326.7 L423.5,327.1 L425.1,327.5 L426.7,327.8 L428.3,328.1 L429.9,328.5 L431.4,328.8 L433.0,329.2 L434.6,329.9 L436.2,331.1 L437.8,332.6 L439.4,334.4 L441.0,336.6 L442.6,338.8 L444.2,340.4 L445.8,341.7 L447.4,342.8 L449.0,343.7 L450.6,344.1 L452.2,344.3 L453.8,344.5 L455.4,345.1 L457.0,346.4 L458.6,348.0 L460.1,350.7 L461.7,354.3 L463.3,358.3 L464.9,363.0 L466.5,368.2 L468.1,373.9 L469.7,380.3 L471.3,388.0 L472.9,398.0 L473.9,393.8 L474.9,388.8 L475.9,383.2 L476.9,376.1 L477.9,369.0 L478.9,364.1 L479.9,359.9 L480.9,356.6 L481.9,354.2 L482.9,352.1 L483.9,350.5 L484.9,349.1 L485.9,348.2 L486.9,347.4 L487.9,346.8 L488.9,346.2 L489.9,345.6 L490.9,345.0 L491.9,344.3 L492.9,343.5 L493.9,342.6 L494.9,341.8 L495.9,340.8 L496.9,339.9 L497.9,339.0 L498.9,338.1 L499.9,337.2 L500.9,336.3 L501.9,335.3 L502.9,334.4 L503.9,333.5 L504.9,332.7 L505.9,332.2 L506.9,331.9 L507.9,331.6 L508.9,331.4 L509.9,331.2 L510.9,331.0 L511.9,330.8 L512.9,330.5 L513.9,330.1 L514.9,329.7 L515.9,329.2 L516.9,328.8 L517.9,328.3 L518.9,327.8 L519.9,327.3 L520.9,326.8 L521.9,326.2 L522.9,325.7 L523.9,325.1 L524.9,324.6 L525.9,324.1 L526.9,323.8 L527.9,323.6 L528.9,323.4 L529.9,323.3 L530.9,323.2 L531.9,323.0 L532.9,322.8 L533.9,322.6 L534.9,322.4 L535.9,322.2 L536.9,322.0 L537.9,321.8 L538.9,321.5 L539.9,321.3 L540.9,321.0 L541.9,320.7" fill="none" stroke="#2222ee" stroke-width="1.4" stroke-linejoin="round"/>
<path d="M362.9,315.6 L364.2,316.1 L365.6,316.7 L366.9,317.4 L368.2,318.1 L369.6,319.0 L370.9,319.9 L372.3,320.7 L373.6,321.3 L375.0,321.8 L376.3,322.2 L377.6,322.6 L379.0,322.8 L380.3,322.8 L381.7,322.3 L383.0,321.5 L384.3,320.7 L385.7,320.2 L387.0,320.2 L388.4,320.7 L389.7,321.5 L391.0,322.3 L392.4,323.1 L393.7,324.0 L395.1,325.0 L396.4,325.9 L397.7,326.7 L399.1,327.4 L400.4,328.1 L401.8,328.7 L403.1,329.2 L404.4,329.6 L405.8,329.9 L407.1,330.2 L408.5,330.6 L409.8,331.0 L411.2,331.6 L412.5,332.3 L413.8,332.9 L415.2,333.6 L416.5,334.3 L417.9,335.2 L419.2,335.9 L420.5,336.6 L421.9,337.1 L423.2,337.4 L424.6,337.7 L425.9,338.0 L427.2,338.3 L428.6,338.7 L429.9,339.1 L431.3,339.6 L432.6,340.3 L433.9,341.4 L435.3,343.2 L436.6,345.3 L438.0,347.7 L439.3,350.5 L440.7,354.0 L442.0,357.7 L443.3,361.5 L444.7,365.5 L446.0,369.7 L447.4,374.1 L448.7,378.7 L450.0,383.6 L451.4,388.9 L452.7,394.5 L454.1,399.1 L455.4,402.8 L456.7,397.6 L457.9,392.5 L459.2,387.6 L460.4,382.8 L461.7,378.2 L462.9,373.6 L464.2,369.5 L465.4,365.9 L466.7,362.7 L467.9,359.7 L469.2,357.0 L470.4,354.4 L471.7,352.0 L473.0,349.5 L474.2,346.8 L475.5,344.2 L476.7,341.9 L478.0,340.1 L479.2,338.6 L480.5,337.4 L481.7,336.6 L483.0,336.1 L484.2,335.6 L485.5,335.2 L486.7,334.9 L488.0,334.6 L489.3,334.3 L490.5,333.9 L491.8,333.5 L493.0,333.1 L494.3,332.7 L495.5,332.2 L496.8,331.8 L498.0,331.3 L499.3,330.9 L500.5,330.4 L501.8,329.9 L503.0,329.4 L504.3,328.8 L505.5,328.3 L506.8,327.8 L508.1,327.3 L509.3,326.8 L510.6,326.4 L511.8,326.0 L513.1,325.8 L514.3,325.6 L515.6,325.4 L516.8,325.2 L518.1,325.0 L519.3,324.5 L520.6,323.6 L521.8,322.5 L523.1,321.5 L524.4,320.8 L525.6,320.6 L526.9,320.4 L528.1,320.2 L529.4,320.1 L530.6,320.0 L531.9,319.8 L533.1,319.7 L534.4,319.5 L535.6,319.4 L536.9,319.2 L538.1,319.1 L539.4,319.0 L540.7,318.8 L541.9,318.7" fill="none" stroke="#22ee22" stroke-width="1.4" stroke-linejoin="round"/>
<path d="M362.9,322.4 L363.9,322.8 L365.0,323.2 L366.0,323.7 L367.0,324.2 L368.1,324.9 L369.1,325.6 L370.1,326.4 L371.2,327.3 L372.2,328.1 L373.2,328.8 L374.3,329.4 L375.3,329.9 L376.3,330.5 L377.4,331.0 L378.4,331.3 L379.4,331.5 L380.5,331.5 L381.5,331.1 L382.5,330.6 L383.6,329.9 L384.6,329.4 L385.7,329.1 L386.7,329.1 L387.7,329.5 L388.8,330.1 L389.8,330.8 L390.8,331.5 L391.9,332.4 L392.9,333.3 L393.9,334.4 L395.0,335.4 L396.0,336.5 L397.0,337.4 L398.1,338.4 L399.1,339.5 L400.1,340.5 L401.2,341.4 L402.2,342.2 L403.2,342.9 L404.3,343.4 L405.3,343.9 L406.4,344.3 L407.4,344.8 L408.4,345.3 L409.5,346.0 L410.5,346.8 L411.5,347.6 L412.6,348.5 L413.6,349.5 L414.6,350.4 L415.7,351.2 L416.7,352.1 L417.7,352.9 L418.8,353.8 L419.8,354.6 L420.8,355.5 L421.9,356.5 L422.9,357.3 L423.9,358.2 L425.0,359.2 L426.0,360.4 L427.1,362.0 L428.1,364.0 L429.1,366.7 L430.2,370.3 L431.2,375.5 L432.2,381.2 L433.3,386.7 L434.3,392.5 L435.9,381.3 L437.4,371.3 L439.0,364.6 L440.5,359.7 L442.1,356.1 L443.7,353.4 L445.2,351.1 L446.8,349.3 L448.3,347.7 L449.9,346.3 L451.5,345.1 L453.0,344.0 L454.6,343.3 L456.1,342.9 L457.7,342.6 L459.3,342.4 L460.8,342.2 L462.4,341.9 L463.9,341.6 L465.5,341.1 L467.1,340.2 L468.6,339.0 L470.2,337.6 L471.7,336.2 L473.3,334.9 L474.8,333.3 L476.4,331.7 L478.0,330.1 L479.5,328.8 L481.1,328.0 L482.6,327.7 L484.2,327.4 L485.8,327.3 L487.3,327.1 L488.9,327.0 L490.4,326.7 L492.0,326.4 L493.6,326.0 L495.1,325.4 L496.7,324.8 L498.2,324.3 L499.8,323.9 L501.4,323.5 L502.9,323.3 L504.5,323.0 L506.0,322.8 L507.6,322.6 L509.2,322.3 L510.7,322.1 L512.3,321.8 L513.8,321.4 L515.4,320.9 L517.0,320.4 L518.5,319.9 L520.1,319.3 L521.6,318.9 L523.2,318.5 L524.8,318.2 L526.3,318.1 L527.9,318.0 L529.4,317.9 L531.0,317.8 L532.6,317.7 L534.1,317.6 L535.7,317.4 L537.2,317.3 L538.8,317.2 L540.3,317.1 L541.9,317.0" fill="none" stroke="#ff3030" stroke-width="1.4" stroke-linejoin="round"/>
<path d="M362.9,334.9 L363.5,335.0 L364.1,335.3 L364.6,335.6 L365.2,335.9 L365.8,336.2 L366.4,336.6 L367.0,337.0 L367.6,337.4 L368.2,337.9 L368.7,338.6 L369.3,339.2 L369.9,340.0 L370.5,340.8 L371.1,341.5 L371.7,342.3 L372.3,343.1 L372.8,343.8 L373.4,344.4 L374.0,344.9 L374.6,345.5 L375.2,346.1 L375.8,346.6 L376.4,347.2 L376.9,347.7 L377.5,348.2 L378.1,348.6 L378.7,348.9 L379.3,349.1 L379.9,349.2 L380.5,349.2 L381.0,349.2 L381.6,349.2 L382.2,349.2 L382.8,349.2 L383.4,349.2 L384.0,349.2 L384.6,349.2 L385.1,349.2 L385.7,349.2 L386.3,349.2 L386.9,349.4 L387.5,349.8 L388.1,350.3 L388.7,350.9 L389.2,351.6 L389.8,352.4 L390.4,353.1 L391.0,353.9 L391.6,354.8 L392.2,355.7 L392.8,356.8 L393.3,357.9 L393.9,359.1 L394.5,360.4 L395.1,361.7 L395.7,363.1 L396.3,364.6 L396.9,366.3 L397.4,368.2 L398.0,370.3 L398.6,372.6 L399.2,375.3 L399.8,378.2 L400.4,381.4 L401.0,384.9 L401.5,389.1 L402.1,393.7 L402.7,398.8 L403.3,404.2 L405.3,387.0 L407.3,371.9 L409.3,362.0 L411.3,358.0 L413.3,356.3 L415.4,355.5 L417.4,355.0 L419.4,354.3 L421.4,353.2 L423.4,351.7 L425.4,349.9 L427.4,347.7 L429.4,345.1 L431.4,342.8 L433.4,341.2 L435.4,339.9 L437.4,338.7 L439.5,337.4 L441.5,336.1 L443.5,334.8 L445.5,333.6 L447.5,332.5 L449.5,331.2 L451.5,330.1 L453.5,329.3 L455.5,329.7 L457.5,330.7 L459.5,330.5 L461.6,330.2 L463.6,329.9 L465.6,329.2 L467.6,328.4 L469.6,327.5 L471.6,326.6 L473.6,325.4 L475.6,324.1 L477.6,323.0 L479.6,322.2 L481.6,321.8 L483.7,321.4 L485.7,321.0 L487.7,320.7 L489.7,320.4 L491.7,320.1 L493.7,319.8 L495.7,319.6 L497.7,319.3 L499.7,319.1 L501.7,318.9 L503.7,318.6 L505.7,318.4 L507.8,318.2 L509.8,318.0 L511.8,317.7 L513.8,317.4 L515.8,317.0 L517.8,316.6 L519.8,316.2 L521.8,315.9 L523.8,315.6 L525.8,315.5 L527.8,315.4 L529.9,315.3 L531.9,315.2 L533.9,315.1 L535.9,315.0 L537.9,315.0 L539.9,314.9 L541.9,314.9" fill="none" stroke="#333" stroke-width="1.4" stroke-linejoin="round"/>
</g>
<path d="M380.6,409.8 L394.6,409.8" stroke="#333" stroke-width="1.5"/>
<text class="fs" x="396.90000000000003" y="411.7" font-size="5.4" fill="#222" textLength="28.5" lengthAdjust="spacingAndGlyphs">Gas conc.=0</text>
<path d="M380.6,418.0 L394.6,418.0" stroke="#ff3030" stroke-width="1.5"/>
<text class="fs" x="396.90000000000003" y="419.9" font-size="5.4" fill="#222" textLength="53.2" lengthAdjust="spacingAndGlyphs">Gas conc.=215 pm/ppm</text>
<path d="M380.6,425.7 L394.6,425.7" stroke="#22ee22" stroke-width="1.5"/>
<text class="fs" x="396.90000000000003" y="427.59999999999997" font-size="5.4" fill="#222" textLength="53.2" lengthAdjust="spacingAndGlyphs">Gas conc.=262 pm/ppm</text>
<path d="M380.6,433.4 L394.6,433.4" stroke="#2222ee" stroke-width="1.5"/>
<text class="fs" x="396.90000000000003" y="435.29999999999995" font-size="5.4" fill="#222" textLength="53.2" lengthAdjust="spacingAndGlyphs">Gas conc.=328 pm/ppm</text>
<path d="M454.3,418.0 L468.3,418.0" stroke="#18e8f0" stroke-width="1.5"/>
<text class="fs" x="470.6" y="419.9" font-size="5.4" fill="#222" textLength="53.2" lengthAdjust="spacingAndGlyphs">Gas conc.=366 pm/ppm</text>
<path d="M454.3,425.7 L468.3,425.7" stroke="#ff22ee" stroke-width="1.5"/>
<text class="fs" x="470.6" y="427.59999999999997" font-size="5.4" fill="#222" textLength="53.2" lengthAdjust="spacingAndGlyphs">Gas conc.=434 pm/ppm</text>
<path d="M454.3,433.4 L468.3,433.4" stroke="#1f7a7a" stroke-width="1.5"/>
<text class="fs" x="470.6" y="435.29999999999995" font-size="5.4" fill="#222" textLength="53.2" lengthAdjust="spacingAndGlyphs">Gas conc.=524 pm/ppm</text>
<text class="fs" x="511.6" y="312.2" font-size="7.5" fill="#111" text-anchor="start" font-weight="normal" font-style="normal" >L=10 μm</text>
<text class="fs" x="411" y="458.2" font-size="11.6" font-weight="bold" textLength="72.6" lengthAdjust="spacingAndGlyphs">Wavelength (nm)</text>
<text class="fs" font-size="9.8" font-weight="bold" text-anchor="middle" textLength="81" lengthAdjust="spacingAndGlyphs" transform="translate(342.2,368.7) rotate(-90)">Transmission (dB)</text>
</g>
</svg>
</body></html>
